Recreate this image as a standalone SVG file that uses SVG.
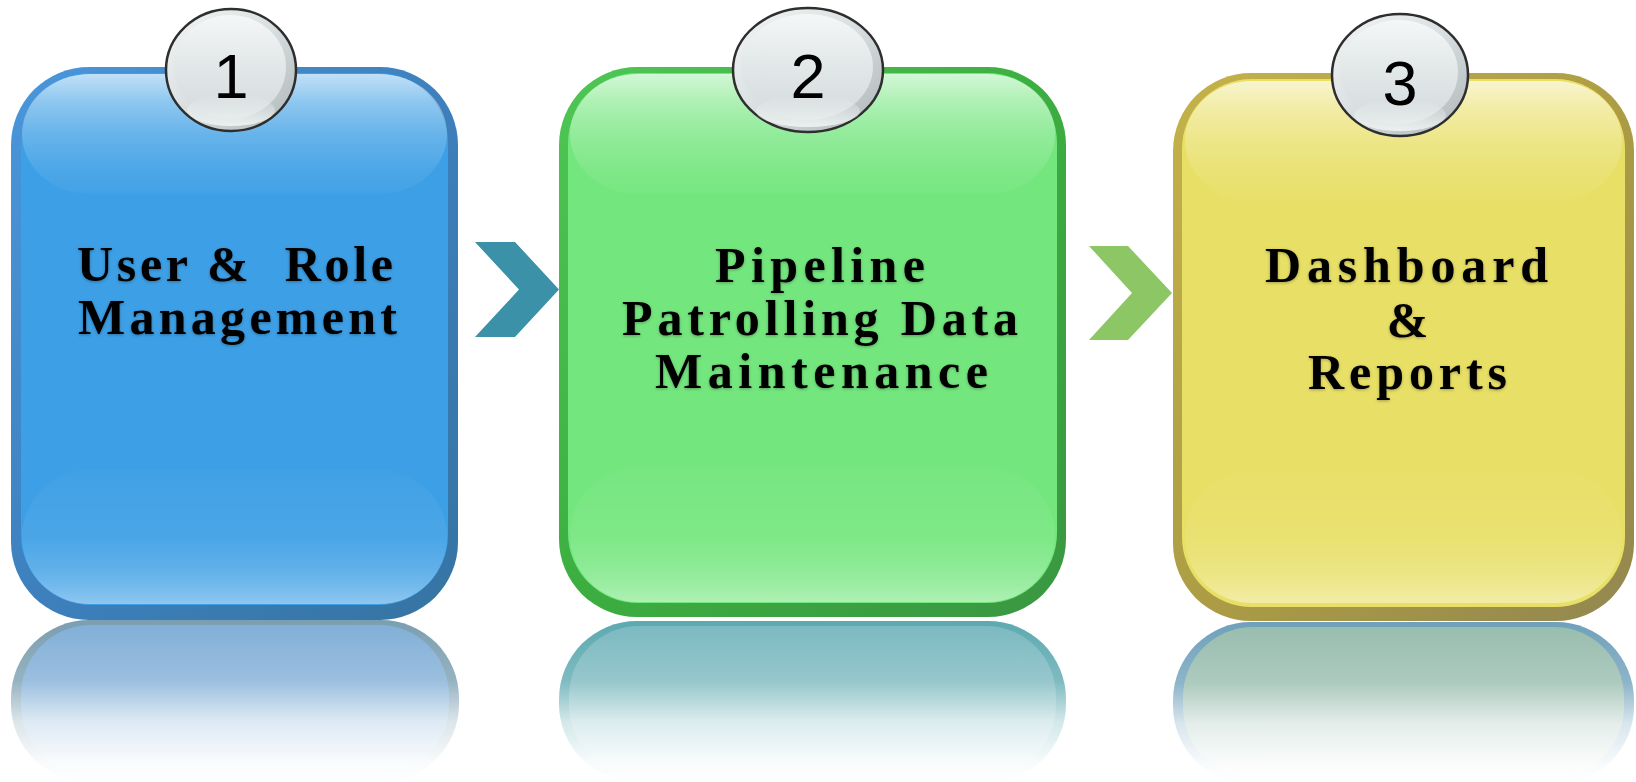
<svg xmlns="http://www.w3.org/2000/svg" width="1636" height="782" viewBox="0 0 1636 782">
<defs>
<style>
.lbl{font-family:"Liberation Serif","Times New Roman",serif;font-weight:bold;font-size:50px;fill:#000;text-anchor:middle;filter:url(#tshadow)}
.num{font-family:"Liberation Sans",Arial,sans-serif;font-size:63px;fill:#000;text-anchor:middle}
.badgeOuter{fill:url(#badgeRim);stroke:#2e2e2e;stroke-width:2.5}
.badgeInner{fill:url(#badgeFace)}
.glossT{fill:url(#glossTop)}
.glossB{fill:url(#glossBot)}
.chev1{fill:#3a91a8}
.chev2{fill:#8cc665}
</style>
<filter id="tshadow" x="-10%" y="-30%" width="120%" height="160%">
<feDropShadow dx="0" dy="1" stdDeviation="1.4" flood-color="#000" flood-opacity="0.3"/>
</filter>
<linearGradient id="b1Border" x1="0" y1="0" x2="1" y2="1"><stop offset="0" stop-color="#4a97dc"/><stop offset="0.5" stop-color="#3d80bd"/><stop offset="1" stop-color="#3574a2"/></linearGradient>
<linearGradient id="b2Border" x1="0" y1="0" x2="1" y2="1"><stop offset="0" stop-color="#4fc655"/><stop offset="0.5" stop-color="#3cae40"/><stop offset="1" stop-color="#3a9642"/></linearGradient>
<linearGradient id="b3Border" x1="0" y1="0" x2="1" y2="1"><stop offset="0" stop-color="#c4b24a"/><stop offset="0.5" stop-color="#ad9d44"/><stop offset="1" stop-color="#928750"/></linearGradient>
<linearGradient id="glossTop" x1="0" y1="0" x2="0" y2="1">
<stop offset="0" stop-color="#fff" stop-opacity="0.68"/>
<stop offset="0.23" stop-color="#fff" stop-opacity="0.42"/>
<stop offset="0.5" stop-color="#fff" stop-opacity="0.22"/>
<stop offset="0.8" stop-color="#fff" stop-opacity="0.08"/>
<stop offset="1" stop-color="#fff" stop-opacity="0.03"/>
</linearGradient>
<linearGradient id="glossBot" x1="0" y1="0" x2="0" y2="1">
<stop offset="0" stop-color="#fff" stop-opacity="0.02"/>
<stop offset="0.5" stop-color="#fff" stop-opacity="0.07"/>
<stop offset="0.74" stop-color="#fff" stop-opacity="0.18"/>
<stop offset="0.89" stop-color="#fff" stop-opacity="0.3"/>
<stop offset="1" stop-color="#fff" stop-opacity="0.42"/>
</linearGradient>
<linearGradient id="badgeRim" x1="0" y1="0" x2="1" y2="1">
<stop offset="0" stop-color="#f4f6f6"/>
<stop offset="0.5" stop-color="#d8dee0"/>
<stop offset="0.85" stop-color="#b9c1c3"/>
<stop offset="1" stop-color="#d6dcdd"/>
</linearGradient>
<linearGradient id="badgeFace" x1="0" y1="0" x2="0" y2="1">
<stop offset="0" stop-color="#f5f7f7"/>
<stop offset="0.45" stop-color="#e3e8e9"/>
<stop offset="1" stop-color="#d4dbdc"/>
</linearGradient>
<linearGradient id="badgeLow" x1="0" y1="0" x2="0" y2="1">
<stop offset="0" stop-color="#eef2f2" stop-opacity="0"/>
<stop offset="1" stop-color="#f0f4f4" stop-opacity="0.9"/>
</linearGradient>
<linearGradient id="fadeGrad" x1="0" y1="0" x2="0" y2="1">
<stop offset="0" stop-color="#fff" stop-opacity="1"/>
<stop offset="0.375" stop-color="#fff" stop-opacity="0.79"/>
<stop offset="0.625" stop-color="#fff" stop-opacity="0.27"/>
<stop offset="0.875" stop-color="#fff" stop-opacity="0.05"/>
<stop offset="1" stop-color="#fff" stop-opacity="0"/>
</linearGradient>
<mask id="fade" maskContentUnits="objectBoundingBox">
<rect x="0" y="0" width="1" height="1" fill="url(#fadeGrad)"/>
</mask>
</defs>

<rect x="0" y="0" width="1636" height="782" fill="#fff"/>

<g id="reflections">
<g id="reflection-1" mask="url(#fade)">
<rect x="11" y="620" width="448" height="162" rx="78" fill="#7a9eb0"/>
<rect x="21" y="625" width="428" height="150" rx="70" fill="#80aed6"/>
</g>
<g id="reflection-2" mask="url(#fade)">
<rect x="559" y="621" width="507" height="161" rx="78" fill="#5ca9b0"/>
<rect x="569" y="626" width="487" height="149" rx="70" fill="#7ab8bf"/>
</g>
<g id="reflection-3" mask="url(#fade)">
<rect x="1173" y="622" width="461" height="162" rx="78" fill="#6fa0bb"/>
<rect x="1183" y="627" width="441" height="150" rx="70" fill="#97bcad"/>
</g>
</g>

<g id="node-1">
<rect x="11" y="67" width="447" height="553" rx="78" fill="url(#b1Border)"/>
<rect x="21" y="73" width="427" height="532" rx="70" fill="#3d9fe5"/>
<rect x="22" y="74" width="425" height="120" rx="68" class="glossT"/>
<rect x="22" y="470" width="425" height="134" rx="68" class="glossB"/>
<text class="lbl" x="235" y="281" textLength="316" lengthAdjust="spacing" xml:space="preserve">User &amp;  Role</text>
<text class="lbl" x="237.5" y="334" textLength="319" lengthAdjust="spacing">Management</text>
<g id="badge-1">
<ellipse cx="231" cy="70" rx="65" ry="61" class="badgeOuter"/>
<ellipse cx="230" cy="67" rx="56" ry="52" class="badgeInner"/>
<ellipse cx="231" cy="110" rx="44" ry="16" fill="url(#badgeLow)"/>
<text class="num" x="231" y="98">1</text>
</g>
</g>

<g id="node-2">
<rect x="559" y="67" width="507" height="550" rx="78" fill="url(#b2Border)"/>
<rect x="568" y="73" width="489" height="530" rx="70" fill="#74e67e"/>
<rect x="570" y="74" width="485" height="120" rx="68" class="glossT"/>
<rect x="570" y="468" width="485" height="134" rx="68" class="glossB"/>
<text class="lbl" x="820" y="282" textLength="210" lengthAdjust="spacing">Pipeline</text>
<text class="lbl" x="820" y="335" textLength="396" lengthAdjust="spacing">Patrolling Data</text>
<text class="lbl" x="821.5" y="388" textLength="333" lengthAdjust="spacing">Maintenance</text>
<g id="badge-2">
<ellipse cx="808" cy="70" rx="75" ry="62" class="badgeOuter"/>
<ellipse cx="807" cy="67" rx="66" ry="53" class="badgeInner"/>
<ellipse cx="808" cy="111" rx="52" ry="16" fill="url(#badgeLow)"/>
<text class="num" x="808" y="98">2</text>
</g>
</g>

<g id="node-3">
<rect x="1173" y="73" width="461" height="548" rx="78" fill="url(#b3Border)"/>
<rect x="1182" y="79" width="443" height="528" rx="70" fill="#e8df66"/>
<rect x="1185" y="81" width="437" height="120" rx="67" class="glossT"/>
<rect x="1185" y="471" width="437" height="132" rx="67" class="glossB"/>
<text class="lbl" x="1406.5" y="282" textLength="283" lengthAdjust="spacing">Dashboard</text>
<text class="lbl" x="1407.5" y="337">&amp;</text>
<text class="lbl" x="1407.5" y="389" textLength="199" lengthAdjust="spacing">Reports</text>
<g id="badge-3">
<ellipse cx="1400" cy="75" rx="68" ry="61" class="badgeOuter"/>
<ellipse cx="1399" cy="72" rx="59" ry="52" class="badgeInner"/>
<ellipse cx="1400" cy="115" rx="46" ry="16" fill="url(#badgeLow)"/>
<text class="num" x="1400" y="105">3</text>
</g>
</g>

<g id="connectors">
<polygon class="chev1" points="475,242 515,242 559,289.5 515,337 475,337 519,289.5"/>
<polygon class="chev2" points="1089,246 1128,246 1172,293 1128,340 1089,340 1132,293"/>
</g>
</svg>
